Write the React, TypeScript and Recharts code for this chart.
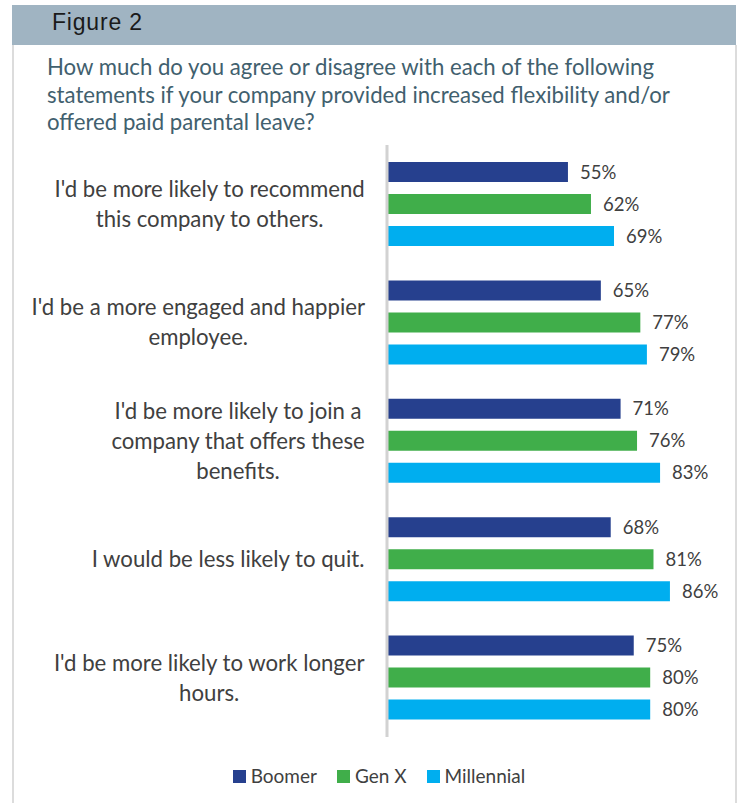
import { BarChart, Bar, XAxis, YAxis, LabelList } from 'recharts';

// statements, wrapped as in the figure
const categories = [
  "I'd be more likely to recommend\nthis company to others.",
  "I'd be a more engaged and happier\nemployee.",
  "I'd be more likely to join a\ncompany that offers these\nbenefits.",
  'I would be less likely to quit.',
  "I'd be more likely to work longer\nhours.",
];

const boomer = [55, 65, 71, 68, 75];
const genX = [62, 77, 76, 81, 80];
const millennial = [69, 79, 83, 86, 80];

const seriesNames = ['Boomer', 'Gen X', 'Millennial'];
const COLORS = ['#26408e', '#40ae4a', '#00aeef'];

const FONT = 'Lato, "Open Sans", sans-serif';
const TEXT = '#404040';

const data = categories.map((name, i) => ({
  name,
  boomer: boomer[i],
  genX: genX[i],
  millennial: millennial[i],
}));

let canvas: HTMLCanvasElement | null = null;
function measure(text: string, size: number) {
  if (!canvas) canvas = document.createElement('canvas');
  const ctx = canvas.getContext('2d')!;
  ctx.font = `${size}px ${FONT}`;
  return ctx.measureText(text).width;
}

function CategoryTick(props: any) {
  const { x, y, payload } = props;
  const lines: string[] = String(payload.value).split('\n');
  const size = 22.2;
  const maxW = Math.max(...lines.map((l) => measure(l, size)));
  const cx = x - 14 - maxW / 2;
  const lh = 30;
  return (
    <g>
      {lines.map((l, i) => (
        <text
          key={i}
          x={cx}
          y={y + (i - (lines.length - 1) / 2) * lh}
          dy="0.35em"
          textAnchor="middle"
          fill={TEXT}
          fontSize={size}
          fontFamily={FONT}
        >
          {l}
        </text>
      ))}
    </g>
  );
}

export default function App() {
  return (
    <div
      style={{
        position: 'absolute',
        left: 0,
        top: 0,
        width: 740,
        height: 803,
        background: '#fff',
        overflow: 'hidden',
      }}
    >
      {/* header band */}
      <div
        style={{
          position: 'absolute',
          left: 12,
          top: 5,
          width: 724,
          height: 40,
          background: '#a0b4c2',
        }}
      />
      <div
        style={{
          position: 'absolute',
          left: 52,
          top: 8,
          fontFamily: 'Arial, "Liberation Sans", sans-serif',
          fontSize: 23,
          letterSpacing: 0.8,
          color: '#1a1a1a',
          lineHeight: '28px',
        }}
      >
        Figure 2
      </div>
      {/* side borders */}
      <div style={{ position: 'absolute', left: 12, top: 45, width: 2, height: 758, background: '#dcdcdc' }} />
      <div style={{ position: 'absolute', left: 735, top: 45, width: 2, height: 758, background: '#dcdcdc' }} />
      <div
        style={{
          position: 'absolute',
          left: 47,
          top: 53,
          width: 690,
          fontFamily: FONT,
          fontSize: 22.2,
          lineHeight: '27.5px',
          color: '#41606e',
          whiteSpace: 'nowrap',
        }}
      >
        How much do you agree or disagree with each of the following
        <br />
        statements if your company provided increased flexibility and/or
        <br />
        offered paid parental leave?
      </div>

      <div style={{ position: 'absolute', left: 0, top: 140 }}>
        <BarChart
          width={740}
          height={610}
          data={data}
          layout="vertical"
          margin={{ top: 5, right: 24, bottom: 13, left: 0 }}
          barSize={20}
          barGap={12}
        >
          <XAxis type="number" domain={[0, 100]} hide />
          <YAxis
            type="category"
            dataKey="name"
            width={387}
            axisLine={{ stroke: '#d2d2d2', strokeWidth: 3 }}
            tickLine={false}
            tick={<CategoryTick />}
            interval={0}
          />
          {(['boomer', 'genX', 'millennial'] as const).map((key, i) => (
            <Bar
              key={key}
              dataKey={key}
              name={seriesNames[i]}
              fill={COLORS[i]}
              isAnimationActive={false}
            >
              <LabelList
                dataKey={key}
                position="right"
                offset={12}
                fill={TEXT}
                fontSize={18.5}
                fontFamily={FONT}
                formatter={(v: any) => `${v}%`}
              />
            </Bar>
          ))}
        </BarChart>
      </div>

      {/* legend */}
      <div
        style={{
          position: 'absolute',
          left: 0,
          top: 764,
          width: 758,
          display: 'flex',
          justifyContent: 'center',
          gap: 20,
          fontFamily: FONT,
          fontSize: 19,
          color: TEXT,
          lineHeight: '24px',
        }}
      >
        {seriesNames.map((n, i) => (
          <div key={n} style={{ display: 'flex', alignItems: 'center', gap: 5 }}>
            <span
              style={{ width: 13, height: 13, background: COLORS[i], display: 'inline-block' }}
            />
            <span>{n}</span>
          </div>
        ))}
      </div>
    </div>
  );
}
